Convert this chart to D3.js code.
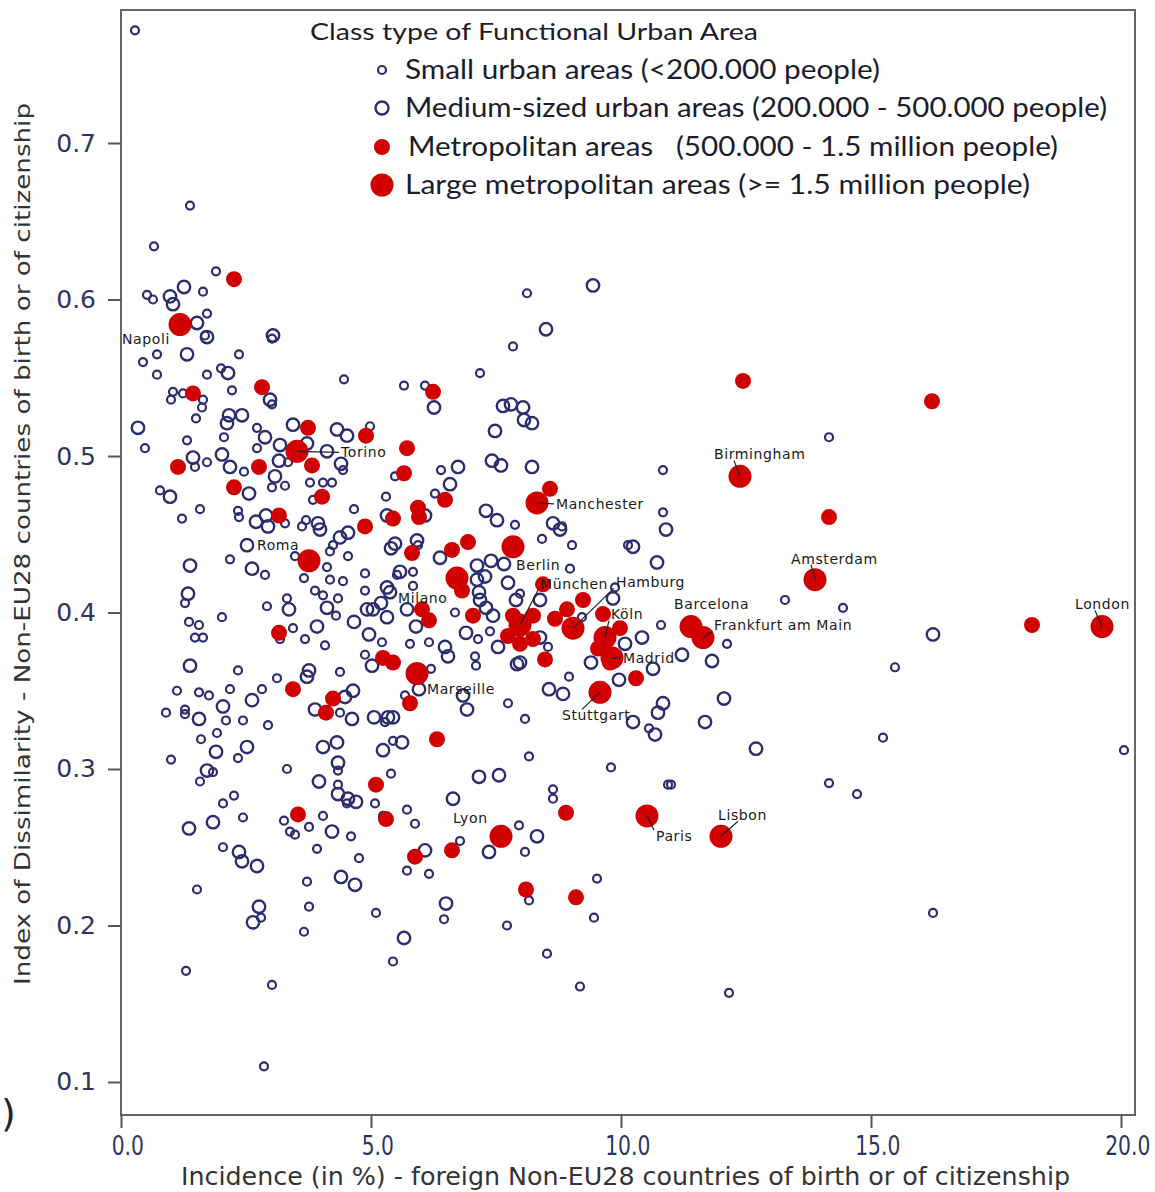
<!DOCTYPE html>
<html>
<head>
<meta charset="utf-8">
<script src="https://cdn.jsdelivr.net/npm/d3@7"></script>
<style>
  body { margin: 0; background: #fff; }
  svg { display: block; }
  .tick text { fill: #2c3560; }
</style>
</head>
<body>
<script>

// small urban areas (<200.000) - [incidence %, dissimilarity index]
var smallAreas = [
[0.28,0.772],[1.38,0.660],[0.66,0.634],[1.90,0.618],[0.52,0.603],[0.64,0.600],[1.64,0.605],[1.72,0.591],
[1.68,0.577],[0.72,0.565],[0.44,0.560],[2.36,0.565],[0.72,0.552],[1.72,0.552],[2.00,0.556],[3.02,0.575],
[4.46,0.549],[1.04,0.541],[1.24,0.540],[1.00,0.536],[1.64,0.536],[1.62,0.531],[3.02,0.533],[2.22,0.542],
[1.50,0.524],[2.06,0.512],[0.48,0.505],[1.32,0.510],[2.72,0.518],[2.72,0.505],[4.98,0.519],[1.48,0.493],
[1.72,0.496],[2.46,0.490],[3.34,0.496],[4.44,0.491],[3.28,0.481],[3.02,0.480],[3.78,0.483],[4.04,0.483],
[4.22,0.483],[0.78,0.478],[3.84,0.472],[1.58,0.466],[1.22,0.460],[2.34,0.465],[2.36,0.461],[3.28,0.457],
[3.62,0.455],[3.70,0.459],[4.66,0.466],[5.30,0.474],[4.24,0.443],[4.18,0.439],[2.18,0.434],[2.88,0.424],
[3.48,0.436],[4.12,0.429],[4.54,0.436],[4.88,0.425],[3.66,0.422],[4.18,0.421],[4.44,0.420],[3.32,0.409],
[3.88,0.414],[4.04,0.411],[4.34,0.409],[4.88,0.414],[5.52,0.424],[1.28,0.406],[2.02,0.397],[2.92,0.404],
[4.30,0.398],[1.36,0.394],[1.56,0.392],[1.48,0.384],[1.64,0.384],[3.44,0.390],[3.18,0.383],[3.68,0.383],
[4.08,0.379],[5.22,0.381],[4.88,0.373],[2.34,0.363],[4.38,0.362],[3.12,0.358],[1.12,0.350],[1.56,0.349],
[1.76,0.347],[2.18,0.351],[2.82,0.351],[4.38,0.336],[0.90,0.336],[1.28,0.338],[1.28,0.335],[2.10,0.331],
[2.44,0.331],[2.94,0.328],[5.28,0.330],[1.60,0.319],[1.92,0.323],[2.34,0.307],[1.00,0.306],[5.44,0.318],
[1.84,0.298],[1.58,0.292],[3.32,0.300],[4.34,0.299],[5.40,0.297],[4.34,0.290],[4.52,0.278],[5.08,0.278],
[5.24,0.270],[2.26,0.283],[2.04,0.278],[2.44,0.269],[3.26,0.267],[3.38,0.260],[3.48,0.258],[3.76,0.263],
[4.04,0.270],[4.60,0.257],[2.04,0.250],[3.92,0.249],[4.76,0.243],[3.72,0.228],[1.52,0.223],[2.80,0.205],
[3.76,0.212],[3.66,0.196],[5.10,0.208],[5.44,0.177],[1.30,0.171],[3.02,0.162],[2.86,0.110],[6.46,0.204],
[8.16,0.216],[9.46,0.205],[7.72,0.200],[8.52,0.182],[9.18,0.161],[6.20,0.364],[7.10,0.366],[8.96,0.359],
[5.68,0.347],[7.74,0.342],[8.08,0.332],[10.56,0.326],[8.16,0.308],[9.80,0.301],[5.72,0.274],[5.88,0.265],
[8.64,0.287],[8.64,0.281],[10.94,0.290],[7.96,0.264],[6.78,0.254],[8.08,0.247],[5.72,0.235],[6.16,0.233],
[9.52,0.230],[5.66,0.545],[6.08,0.545],[5.48,0.487],[6.40,0.491],[10.84,0.491],[6.28,0.476],[7.88,0.456],
[8.82,0.455],[9.02,0.443],[10.84,0.464],[8.42,0.447],[5.94,0.443],[5.84,0.426],[8.98,0.428],[10.14,0.443],
[5.84,0.417],[6.68,0.400],[7.14,0.383],[7.38,0.388],[7.98,0.412],[8.54,0.378],[9.22,0.397],[9.88,0.416],
[7.08,0.372],[6.16,0.381],[5.78,0.380],[8.12,0.604],[7.84,0.570],[7.18,0.553],[14.16,0.512],[13.28,0.408],
[14.44,0.403],[10.80,0.392],[12.12,0.380],[15.48,0.365],[15.24,0.320],[20.06,0.312],[11.00,0.290],
[14.16,0.291],[14.72,0.284],[16.24,0.208],[12.16,0.157]
];

// medium-sized urban areas (200.000 - 500.000)
var mediumAreas = [
[0.98,0.602],[1.26,0.608],[1.04,0.597],[1.52,0.585],[1.72,0.576],[1.32,0.565],[2.14,0.553],[3.04,0.577],
[2.98,0.536],[2.16,0.526],[2.12,0.521],[2.42,0.526],[0.34,0.518],[2.88,0.512],[3.18,0.507],[3.44,0.520],
[3.72,0.508],[4.12,0.503],[4.32,0.517],[4.52,0.513],[2.02,0.501],[1.44,0.499],[2.18,0.493],[3.16,0.497],
[4.40,0.495],[3.08,0.487],[2.56,0.476],[0.98,0.474],[2.70,0.458],[2.90,0.462],[2.94,0.455],[3.94,0.457],
[3.98,0.453],[2.52,0.443],[4.54,0.451],[4.38,0.448],[1.38,0.430],[2.62,0.428],[5.40,0.441],[5.48,0.444],
[5.32,0.462],[1.34,0.412],[5.32,0.416],[3.36,0.402],[4.12,0.403],[4.66,0.394],[4.92,0.402],[5.04,0.402],
[5.20,0.406],[5.32,0.397],[3.92,0.391],[4.96,0.386],[5.02,0.366],[1.38,0.366],[3.76,0.363],[3.72,0.359],
[2.62,0.344],[2.04,0.340],[4.64,0.350],[4.48,0.346],[3.88,0.338],[4.62,0.332],[1.56,0.332],[5.06,0.333],
[5.34,0.333],[5.44,0.333],[1.90,0.311],[2.52,0.314],[4.04,0.314],[4.32,0.317],[5.24,0.312],[1.72,0.299],
[4.34,0.304],[3.96,0.292],[4.34,0.284],[4.54,0.281],[4.70,0.279],[1.84,0.266],[1.36,0.262],[4.22,0.260],
[2.36,0.247],[2.42,0.241],[2.72,0.238],[4.40,0.231],[4.68,0.226],[2.76,0.212],[2.64,0.202],[5.66,0.192],
[6.50,0.214],[7.92,0.367],[9.40,0.368],[9.96,0.357],[10.64,0.364],[5.96,0.351],[6.84,0.347],[6.92,0.338],
[8.56,0.351],[8.84,0.348],[10.24,0.330],[10.84,0.342],[10.74,0.336],[10.68,0.322],[5.62,0.317],[7.16,0.295],
[7.56,0.296],[6.64,0.281],[8.32,0.257],[6.08,0.248],[7.36,0.247],[6.26,0.531],[7.64,0.532],[7.80,0.533],
[8.04,0.531],[8.06,0.523],[8.22,0.521],[7.48,0.516],[6.74,0.493],[7.42,0.497],[7.60,0.494],[8.22,0.493],
[6.58,0.482],[6.08,0.462],[7.30,0.465],[7.52,0.459],[8.64,0.457],[8.78,0.453],[10.90,0.453],[5.92,0.446],
[6.38,0.435],[7.12,0.430],[7.40,0.433],[7.66,0.431],[7.28,0.423],[5.58,0.426],[7.12,0.421],[7.74,0.419],
[10.72,0.432],[10.24,0.442],[5.38,0.413],[5.90,0.391],[5.72,0.402],[6.90,0.387],[7.18,0.408],[7.30,0.403],
[7.44,0.398],[7.16,0.413],[7.90,0.408],[8.38,0.408],[8.38,0.384],[10.42,0.384],[10.08,0.380],[9.84,0.409],
[6.54,0.372],[7.54,0.378],[7.98,0.368],[6.48,0.378],[9.44,0.609],[8.50,0.581],[16.24,0.386],[11.22,0.373],
[11.82,0.369],[12.06,0.345],[11.68,0.330],[12.70,0.313]
];

// metropolitan areas (500.000 - 1.5 million)
var metroAreas = [
[2.26,0.613],[1.44,0.540],[2.82,0.544],[3.74,0.518],[4.90,0.513],[1.14,0.493],[2.76,0.493],[3.82,0.494],
[2.26,0.480],[4.02,0.474],[3.16,0.462],[4.88,0.455],[5.44,0.460],[3.16,0.387],[5.24,0.371],[5.44,0.368],
[3.44,0.351],[4.24,0.345],[4.10,0.336],[5.10,0.290],[5.30,0.268],[3.54,0.271],[5.78,0.342],[8.48,0.370],
[9.78,0.368],[10.30,0.358],[6.32,0.319],[8.90,0.272],[5.88,0.244],[6.62,0.248],[8.10,0.223],[9.10,0.218],
[6.24,0.541],[5.72,0.505],[5.66,0.489],[6.48,0.472],[8.58,0.479],[5.94,0.467],[5.96,0.461],[6.94,0.445],
[6.62,0.440],[5.82,0.438],[6.82,0.414],[8.44,0.418],[6.02,0.402],[6.16,0.395],[7.04,0.398],[7.84,0.398],
[8.24,0.398],[7.74,0.385],[8.24,0.383],[7.98,0.380],[8.68,0.396],[8.92,0.402],[9.24,0.408],[9.64,0.399],
[9.98,0.390],[9.54,0.377],[12.44,0.548],[16.22,0.535],[14.16,0.461],[18.22,0.392]
];

// large metropolitan areas (>= 1.5 million)
var largeAreas = [
{name:"Napoli", x:1.18, y:0.584}, {name:"Torino", x:3.52, y:0.503}, {name:"Roma", x:3.76, y:0.433},
{name:"Milano", x:6.72, y:0.422}, {name:"Marseille", x:5.92, y:0.361}, {name:"Lyon", x:7.60, y:0.257},
{name:"Berlin", x:7.84, y:0.442}, {name:"München", x:7.98, y:0.392}, {name:"Hamburg", x:9.04, y:0.390},
{name:"Köln", x:9.68, y:0.384}, {name:"Madrid", x:9.82, y:0.371}, {name:"Manchester", x:8.32, y:0.470},
{name:"Stuttgart", x:9.58, y:0.349}, {name:"Paris", x:10.52, y:0.270}, {name:"Lisbon", x:12.00, y:0.257},
{name:"Birmingham", x:12.38, y:0.487}, {name:"Amsterdam", x:13.88, y:0.421}, {name:"Barcelona", x:11.40, y:0.391},
{name:"Frankfurt am Main", x:11.64, y:0.384}, {name:"London", x:19.62, y:0.391}
];

var xTicks = [0, 5, 10, 15, 20];
var yTicks = [0.1, 0.2, 0.3, 0.4, 0.5, 0.6, 0.7];

var legendTitle = "Class type of Functional Urban Area";
var legendItems = [
  "Small urban areas (<200.000 people)",
  "Medium-sized urban areas (200.000 - 500.000 people)",
  "Metropolitan areas   (500.000 - 1.5 million people)",
  "Large metropolitan areas (>= 1.5 million people)"
];

// label offsets from the dot (px), third value = draw leader
var labelPos = {
  "Napoli": [-58, 15, 0], "Torino": [44, 1, 1], "Roma": [-52, -16, 0], "Milano": [-59, 20, 0],
  "Marseille": [10, 16, 0], "Lyon": [-48, -18, 0], "Berlin": [3, 18, 0], "München": [20, -41, 1],
  "Hamburg": [43, -46, 1], "Köln": [6, -23, 1], "Madrid": [11, 0, 1], "Manchester": [19, 1, 1],
  "Stuttgart": [-38, 23, 1], "Paris": [9, 20, 1], "Lisbon": [-3, -21, 1], "Birmingham": [-26, -22, 1],
  "Amsterdam": [-24, -21, 1], "Barcelona": [-17, -22, 0], "Frankfurt am Main": [11, -12, 1], "London": [-27, -22, 1]
};

var W = 1155, H = 1192;
var plotL = 121, plotR = 1135, plotT = 10, plotB = 1115;
var navy = "#2b2e6e", red = "#d10000";

var svg = d3.select("body").append("svg").attr("width", W).attr("height", H);

var x = d3.scaleLinear().domain([0, 20.28]).range([plotL, plotR]);
var y = d3.scaleLinear().domain([0.0789, 0.785]).range([plotB, plotT]);

// frame
svg.append("rect").attr("x", plotL).attr("y", plotT).attr("width", plotR - plotL).attr("height", plotB - plotT)
  .attr("fill", "none").attr("stroke", "#666").attr("stroke-width", 2);

// y axis
var yAx = svg.append("g").attr("transform", `translate(${plotL},0)`)
  .call(d3.axisLeft(y).tickValues(yTicks).tickFormat(d3.format(".1f")).tickSize(13).tickPadding(12));
yAx.select(".domain").remove();
yAx.selectAll("line").attr("stroke", "#555").attr("stroke-width", 2);
yAx.selectAll("text").attr("font-family", "DejaVu Sans, Verdana, sans-serif").attr("font-size", 25);

// x axis
var xAx = svg.append("g").attr("transform", `translate(0,${plotB})`)
  .call(d3.axisBottom(x).tickValues(xTicks).tickFormat(d3.format(".1f")).tickSize(13).tickPadding(9));
xAx.select(".domain").remove();
xAx.selectAll("line").attr("stroke", "#555").attr("stroke-width", 2);
xAx.selectAll("text").attr("font-family", "DejaVu Sans, sans-serif")
  .attr("font-size", 26).attr("dx", 8).attr("transform", "scale(0.78,1)");

// axis titles
svg.append("text").text("Incidence (in %) - foreign Non-EU28 countries of birth or of citizenship")
  .attr("x", 181).attr("y", 1185).attr("textLength", 889).attr("lengthAdjust", "spacingAndGlyphs")
  .attr("font-family", "DejaVu Sans, sans-serif").attr("font-size", 24).attr("fill", "#333");

svg.append("text").text("Index of Dissimilarity - Non-EU28 countries of birth or of citizenship")
  .attr("transform", "translate(30,985) rotate(-90)").attr("textLength", 882).attr("lengthAdjust", "spacingAndGlyphs")
  .attr("font-family", "DejaVu Sans, Verdana, sans-serif").attr("font-size", 21).attr("fill", "#333");

svg.append("text").text(")").attr("x", 1).attr("y", 1126).attr("font-family", "DejaVu Sans").attr("font-size", 38).attr("fill", "#222");

// points
svg.append("g").selectAll("circle").data(smallAreas).enter().append("circle")
  .attr("cx", function(d){return x(d[0])}).attr("cy", function(d){return y(d[1])})
  .attr("r", 4).attr("fill", "none").attr("stroke", navy).attr("stroke-width", 2.2);

svg.append("g").selectAll("circle").data(mediumAreas).enter().append("circle")
  .attr("cx", function(d){return x(d[0])}).attr("cy", function(d){return y(d[1])})
  .attr("r", 6.2).attr("fill", "none").attr("stroke", navy).attr("stroke-width", 2.4);

svg.append("g").selectAll("circle").data(metroAreas).enter().append("circle")
  .attr("cx", function(d){return x(d[0])}).attr("cy", function(d){return y(d[1])})
  .attr("r", 8).attr("fill", red);

svg.append("g").selectAll("circle").data(largeAreas).enter().append("circle")
  .attr("cx", function(d){return x(d.x)}).attr("cy", function(d){return y(d.y)})
  .attr("r", 11.5).attr("fill", red);

// city labels
var lab = svg.append("g");
largeAreas.forEach(function(d){
  var p = labelPos[d.name], cx = x(d.x), cy = y(d.y);
  if (p[2]) {
    var tx = cx + p[0], ty = cy + p[1];
    var ex = p[0] > 4 ? tx - 2 : tx + 20, ey = p[1] < -5 ? ty + 6 : (p[1] > 5 ? ty - 6 : ty);
    lab.append("line").attr("x1", cx).attr("y1", cy).attr("x2", ex).attr("y2", ey)
      .attr("stroke", "#222").attr("stroke-width", 1.2);
  }
  lab.append("text").text(d.name).attr("x", cx + p[0]).attr("y", cy + p[1]).attr("dy", "0.35em")
    .attr("font-family", "DejaVu Sans, sans-serif").attr("font-size", 14).attr("letter-spacing", 0.6).attr("fill", "#1a1a1a");
});

// legend
var lg = svg.append("g").attr("font-family", "Lato, Open Sans, sans-serif").attr("fill", "#1c1c2c");
lg.append("text").text(legendTitle).attr("x", 310).attr("y", 40).attr("font-size", 23)
  .attr("textLength", 448).attr("lengthAdjust", "spacingAndGlyphs");
var legY = [70, 108, 147, 185], legW = [475, 702, 650, 625], legX = [405, 405, 408, 405];
legendItems.forEach(function(t, i){
  var c = lg.append("circle").attr("cx", 382).attr("cy", legY[i]);
  if (i == 0) c.attr("r", 4).attr("fill", "none").attr("stroke", navy).attr("stroke-width", 2.2);
  if (i == 1) c.attr("r", 6.5).attr("fill", "none").attr("stroke", navy).attr("stroke-width", 2.4);
  if (i == 2) c.attr("r", 8).attr("fill", red);
  if (i == 3) c.attr("r", 11.5).attr("fill", red);
  lg.append("text").text(t).attr("x", legX[i]).attr("y", legY[i]).attr("dy", "0.35em")
    .attr("font-size", 26).attr("textLength", legW[i]).attr("lengthAdjust", "spacingAndGlyphs")
    .style("white-space", "pre");
});

</script>
</body>
</html>
